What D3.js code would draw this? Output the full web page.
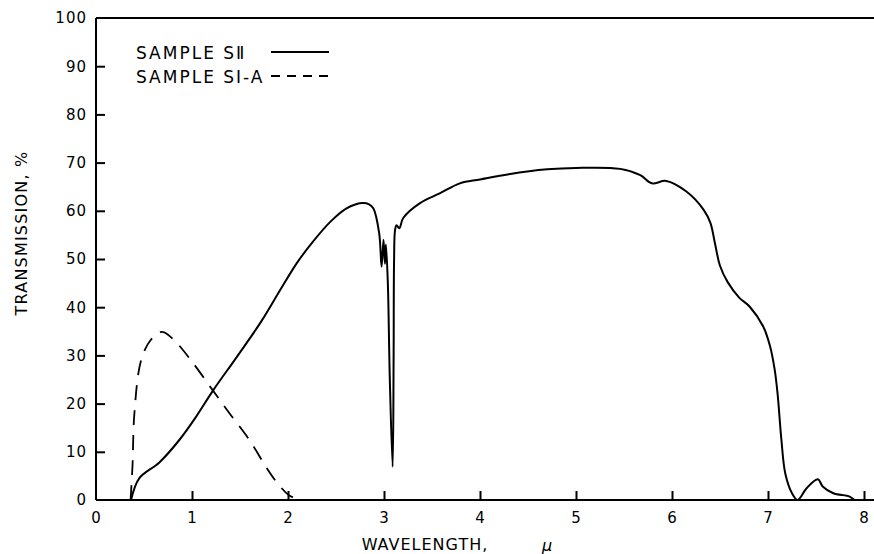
<!DOCTYPE html>
<html>
<head>
<meta charset="utf-8">
<script src="https://cdn.jsdelivr.net/npm/d3@7"></script>
<style>
  body { margin: 0; background: white; }
  text { font-family: "DejaVu Sans", "Liberation Sans", sans-serif; fill: black; }
</style>
</head>
<body>
<div id="chart"></div>
<script>
// sample SII (solid)
var siiWavelength = [0.365, 0.45, 0.66, 0.87, 1.04, 1.215, 1.46, 1.72, 1.92, 2.09, 2.26, 2.44, 2.61, 2.77, 2.84, 2.89,
  2.95, 2.975, 2.995, 3.01, 3.02, 3.04, 3.06, 3.09, 3.10, 3.105, 3.115, 3.13, 3.16, 3.2, 3.375, 3.58, 3.79, 4.0, 4.3,
  4.7, 5.0, 5.46, 5.67, 5.79, 5.94, 6.15, 6.33, 6.40, 6.45, 6.5, 6.58, 6.7, 6.81, 6.95, 7.02, 7.07, 7.1, 7.14, 7.18,
  7.25, 7.31, 7.4, 7.52, 7.57, 7.68, 7.85, 7.9];
var siiTransmission = [0, 4.5, 7.8, 12.5, 17.2, 22.6, 29.5, 37, 43.6, 49.1, 53.6, 57.7, 60.5, 61.6, 61.4, 60.5,
  55.3, 48.4, 54, 49, 53, 45, 25.5, 6.9, 29, 49.8, 56, 57, 56.4, 58.5, 61.6, 63.6, 65.7, 66.5, 67.6,
  68.6, 68.9, 68.7, 67.4, 65.7, 66.2, 64, 60.2, 57.5, 53, 48.6, 45.2, 42, 40.1, 36, 32, 27, 22, 12.4, 5.5,
  1.4, 0, 2.4, 4.3, 2.8, 1.4, 0.7, 0];

// sample SI-A (dashed)
var siaWavelength = [0.36, 0.38, 0.40, 0.47, 0.57, 0.69, 0.83, 1.0, 1.215, 1.39, 1.6, 1.77, 1.89, 2.01, 2.12];
var siaTransmission = [0, 7, 18, 29, 33.2, 34.9, 32.8, 28.7, 22.8, 18, 12.4, 6.9, 3.5, 1, 0];

var xTicks = [0, 1, 2, 3, 4, 5, 6, 7, 8];
var yTicks = [0, 10, 20, 30, 40, 50, 60, 70, 80, 90, 100];
var legendLabels = ["SAMPLE S\u2161", "SAMPLE S\u2160-A"];

var width = 874, height = 554;
var x = d3.scaleLinear().domain([0, 8]).range([96, 864]);
var y = d3.scaleLinear().domain([0, 100]).range([500, 18]);

var svg = d3.select("#chart").append("svg")
    .attr("width", width)
    .attr("height", height);

// frame lines (top and bottom run to the page edge)
svg.append("line").attr("x1", x(0)).attr("x2", width).attr("y1", y(100)).attr("y2", y(100))
    .style("stroke", "black").style("stroke-width", 2);
svg.append("line").attr("x1", x(0)).attr("x2", width).attr("y1", y(0)).attr("y2", y(0))
    .style("stroke", "black").style("stroke-width", 2);
svg.append("line").attr("x1", x(0)).attr("x2", x(0)).attr("y1", y(0)).attr("y2", y(100))
    .style("stroke", "black").style("stroke-width", 2);

// x axis, ticks pointing in
var xAxis = svg.append("g")
    .attr("transform", "translate(0," + y(0) + ")")
    .call(d3.axisBottom(x).tickValues(xTicks).tickSize(-9).tickSizeOuter(0).tickPadding(12)
      .tickFormat(d3.format("d")));
xAxis.select(".domain").remove();
xAxis.selectAll(".tick line").filter(function(d) { return d === 0; }).remove();

// y axis, ticks pointing in
var yAxis = svg.append("g")
    .attr("transform", "translate(" + x(0) + ",0)")
    .call(d3.axisLeft(y).tickValues(yTicks).tickSize(-9).tickSizeOuter(0).tickPadding(9)
      .tickFormat(d3.format("d")));
yAxis.select(".domain").remove();
yAxis.selectAll(".tick line").filter(function(d) { return d === 0 || d === 100; }).remove();

svg.selectAll(".tick line").style("stroke", "black").style("stroke-width", 2);
svg.selectAll(".tick text")
    .style("font-size", "15px")
    .style("font-family", "DejaVu Sans")
    .style("letter-spacing", "1px");

// axis titles
svg.append("text")
    .attr("x", 425).attr("y", 550)
    .attr("text-anchor", "middle")
    .style("font-size", "16px")
    .style("letter-spacing", "1px")
    .text("WAVELENGTH,");
svg.append("text")
    .attr("x", 547).attr("y", 551)
    .attr("text-anchor", "middle")
    .style("font-size", "16px")
    .style("font-style", "italic")
    .text("\u03bc");
svg.append("text")
    .attr("transform", "translate(27," + 233 + ") rotate(-90)")
    .attr("text-anchor", "middle")
    .style("font-size", "16px")
    .style("letter-spacing", "1.2px")
    .text("TRANSMISSION, %");

// curves
var line = d3.line()
    .x(function(d) { return x(d[0]); })
    .y(function(d) { return y(d[1]); })
    .curve(d3.curveCatmullRom.alpha(0.5));

var siiData = siiWavelength.map(function(w, i) { return [w, siiTransmission[i]]; });
var siaData = siaWavelength.map(function(w, i) { return [w, siaTransmission[i]]; });

svg.append("path")
    .datum(siiData)
    .attr("d", line)
    .style("fill", "none")
    .style("stroke", "black")
    .style("stroke-width", 2);

svg.append("path")
    .datum(siaData)
    .attr("d", line)
    .style("fill", "none")
    .style("stroke", "black")
    .style("stroke-width", 1.8)
    .style("stroke-dasharray", "15,10");

// legend
var legendStyles = ["none", "9,7"];
legendLabels.forEach(function(label, i) {
  var ly = 52 + i * 24;
  svg.append("text")
      .attr("x", 136).attr("y", ly + 7)
      .style("font-size", "17px")
      .style("letter-spacing", "2px")
      .text(label);
  svg.append("line")
      .attr("x1", 271).attr("x2", 329).attr("y1", ly).attr("y2", ly)
      .style("stroke", "black")
      .style("stroke-width", 2)
      .style("stroke-dasharray", legendStyles[i]);
});
</script>
</body>
</html>
